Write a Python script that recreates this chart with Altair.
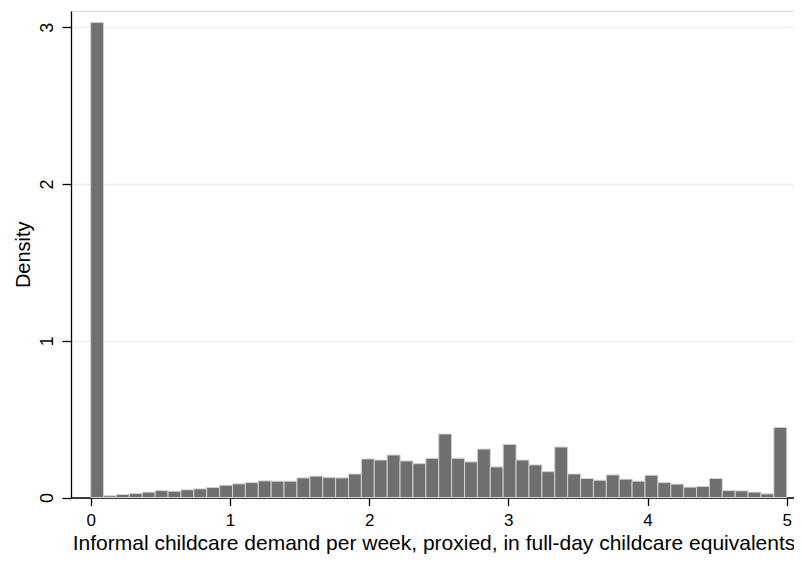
import altair as alt
import pandas as pd

# Histogram: 54 equal-width bins over [0, 5]
n_bins = 54
x_min = 0.0
x_max = 5.0
density = [
    3.03, 0.011, 0.019, 0.025, 0.034, 0.044, 0.040, 0.049, 0.055, 0.064,
    0.078, 0.087, 0.095, 0.106, 0.104, 0.104, 0.125, 0.136, 0.127, 0.125,
    0.150, 0.246, 0.239, 0.271, 0.233, 0.216, 0.250, 0.405, 0.250, 0.227,
    0.309, 0.195, 0.339, 0.239, 0.208, 0.165, 0.322, 0.150, 0.121, 0.110,
    0.144, 0.117, 0.104, 0.142, 0.095, 0.085, 0.066, 0.070, 0.121, 0.044,
    0.042, 0.034, 0.023, 0.447,
]
x_ticks = [0, 1, 2, 3, 4, 5]
y_ticks = [0, 1, 2, 3]
x_title = "Informal childcare demand per week, proxied, in full-day childcare equivalents"
y_title = "Density"

w = (x_max - x_min) / n_bins
df = pd.DataFrame({
    "start": [x_min + i * w for i in range(n_bins)],
    "end": [x_min + (i + 1) * w for i in range(n_bins)],
    "density": density,
})

FONT = "Liberation Sans"
W, H = 723, 486.5

bars = alt.Chart(df).mark_rect(
    color="#6f6f6f", stroke="#d2d2d2", strokeWidth=1
).encode(
    x=alt.X("start:Q",
            scale=alt.Scale(domain=[-0.1415, 5.052], nice=False, zero=False),
            axis=alt.Axis(values=x_ticks, format="d", title=x_title, grid=False,
                          domain=True, domainColor="black", domainWidth=1.3,
                          tickColor="black", tickSize=8, tickWidth=1.3,
                          labelFont=FONT, labelFontSize=17, labelColor="black",
                          labelPadding=7, labelBaseline="top",
                          titleFont=FONT, titleFontSize=21, titleFontWeight="normal",
                          titleColor="black", titleBaseline="alphabetic",
                          titleY=52, titleX=W / 2 + 1)),
    x2="end:Q",
    y=alt.Y("density:Q",
            scale=alt.Scale(domain=[0, 3.104], nice=False),
            axis=alt.Axis(values=y_ticks, format="d", title=y_title, grid=True,
                          gridColor="#e8f0f1", gridWidth=1.5,
                          domain=True, domainColor="black", domainWidth=1.3,
                          tickColor="black", tickSize=9, tickWidth=1.3,
                          labelFont=FONT, labelFontSize=18, labelColor="black",
                          labelAngle=270, labelAlign="center",
                          labelBaseline="alphabetic", labelPadding=10,
                          titleFont=FONT, titleFontSize=20, titleFontWeight="normal",
                          titleColor="black", titleAngle=270,
                          titleBaseline="alphabetic", titleAlign="center",
                          titleX=-42, titleY=H / 2)),
    y2=alt.datum(0),
)

chart = bars.properties(
    width=W,
    height=H,
    autosize=alt.AutoSizeParams(type="none"),
    padding={"left": 63, "top": 3, "right": 0, "bottom": 56.5},
).configure_view(stroke=None).configure(background="white")

chart.save("out.html", embed_options={"renderer": "svg", "actions": False})
